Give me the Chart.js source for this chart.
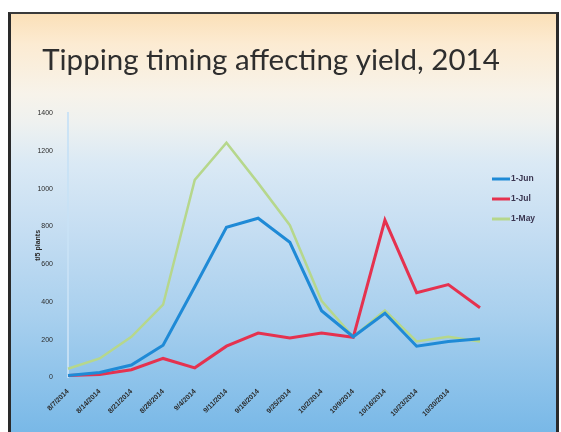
<!DOCTYPE html>
<html>
<head>
<meta charset="utf-8">
<script src="https://cdn.jsdelivr.net/npm/chart.js@4"></script>
<style>
  html, body { margin: 0; padding: 0; background: #fff; }
  #wrap { position: relative; width: 561px; height: 432px; overflow: hidden; background: #fff; }
  #slide {
    position: absolute; left: 8px; top: 12px; width: 545px; height: 420px;
    border-left: 3px solid #2a2a2a; border-top: 2px solid #3a3a3a; border-right: 3px solid #2a2a2a;
    background: linear-gradient(to bottom,
      #fbe0b8 0px, #fcebd2 30px, #f7f3ea 80px, #eef1f0 110px,
      #dae9f5 150px, #c4ddf2 220px, #a9d0ee 300px, #8cc2ea 370px, #78b8e7 420px);
  }
  canvas { position: absolute; left: 0; top: 0; }
</style>
</head>
<body>
<div id="wrap">
  <div id="slide"></div>
  <canvas id="chart" width="561" height="432"></canvas>
</div>
<script>
// ── Dados ──────────────────────────────────────────────
const dates = ['8/7/2014', '8/14/2014', '8/21/2014', '8/28/2014', '9/4/2014', '9/11/2014',
               '9/18/2014', '9/25/2014', '10/2/2014', '10/9/2014', '10/16/2014', '10/23/2014',
               '10/30/2014', ''];
const jun1 = [10, 25, 65, 170, 480, 796, 844, 716, 353, 215, 340, 165, 190, 205];
const jul1 = [10, 15, 40, 100, 50, 165, 235, 208, 235, 212, 834, 449, 492, 369];
const may1 = [45, 100, 215, 385, 1047, 1245, 1030, 807, 406, 215, 355, 190, 215, 190];
const yTicks = [0, 200, 400, 600, 800, 1000, 1200, 1400];

const COLORS = {
  jun: '#1f8ad6',
  jul: '#e5324f',
  may: '#b6d78c',
  text: '#2b2b2b',
  axis: 'rgba(200,225,245,0.9)'
};
const FONT = "'Liberation Sans', Arial, sans-serif";

// legenda desenhada à mão (posição igual ao slide)
const sideLegend = {
  id: 'sideLegend',
  afterDraw(chart) {
    const { ctx } = chart;
    const x0 = 492, y0 = 179, gap = 20;
    ctx.save();
    ctx.font = `bold 8.5px ${FONT}`;
    ctx.textBaseline = 'middle';
    chart.data.datasets.forEach((ds, i) => {
      const y = y0 + i * gap;
      ctx.strokeStyle = ds.borderColor;
      ctx.lineWidth = 3;
      ctx.beginPath(); ctx.moveTo(x0, y); ctx.lineTo(x0 + 18, y); ctx.stroke();
      ctx.fillStyle = '#3a3550';
      ctx.fillText(ds.label, x0 + 19, y);
    });
    ctx.restore();
  }
};

new Chart(document.getElementById('chart').getContext('2d'), {
  type: 'line',
  data: {
    labels: dates,
    datasets: [
      { label: '1-Jun', data: jun1, borderColor: COLORS.jun, borderWidth: 3 },
      { label: '1-Jul', data: jul1, borderColor: COLORS.jul, borderWidth: 3 },
      { label: '1-May', data: may1, borderColor: COLORS.may, borderWidth: 2.5 }
    ].map(d => ({ ...d, pointRadius: 0, tension: 0, fill: false }))
  },
  options: {
    responsive: false,
    animation: false,
    layout: { padding: { left: 0, right: 19, top: 0, bottom: 12 } },
    plugins: {
      legend: { display: false },
      tooltip: { enabled: false },
      title: {
        display: true,
        text: 'Tipping timing affecting yield, 2014',
        color: '#2e2e2e',
        font: { family: "Lato, 'Open Sans', sans-serif", size: 29.5, weight: 'normal' },
        padding: { top: 43, bottom: 35 }
      }
    },
    scales: {
      x: {
        grid: { display: false },
        border: { display: false },
        ticks: {
          color: COLORS.text, autoSkip: false, maxRotation: 45, minRotation: 45, padding: 2,
          font: { family: FONT, size: 7, weight: 'bold' }
        }
      },
      y: {
        min: 0, max: 1400,
        afterBuildTicks: axis => { axis.ticks = yTicks.map(v => ({ value: v })); },
        afterFit: axis => { axis.width = 68; },
        grid: { display: false },
        border: { display: true, color: COLORS.axis, width: 2 },
        title: {
          display: true, text: 't/5 plants', color: COLORS.text,
          font: { family: FONT, size: 7, weight: 'bold' },
          padding: { top: 34, bottom: 0 }
        },
        ticks: {
          color: COLORS.text, padding: 7,
          font: { family: FONT, size: 7 },
          callback: v => String(v)
        }
      },
      // espaço reservado para a legenda à direita
      gap: {
        position: 'right', min: 0, max: 1,
        grid: { display: false }, border: { display: false }, ticks: { display: false },
        afterFit: axis => { axis.width = 62; }
      }
    }
  },
  plugins: [sideLegend]
});
</script>
</body>
</html>
